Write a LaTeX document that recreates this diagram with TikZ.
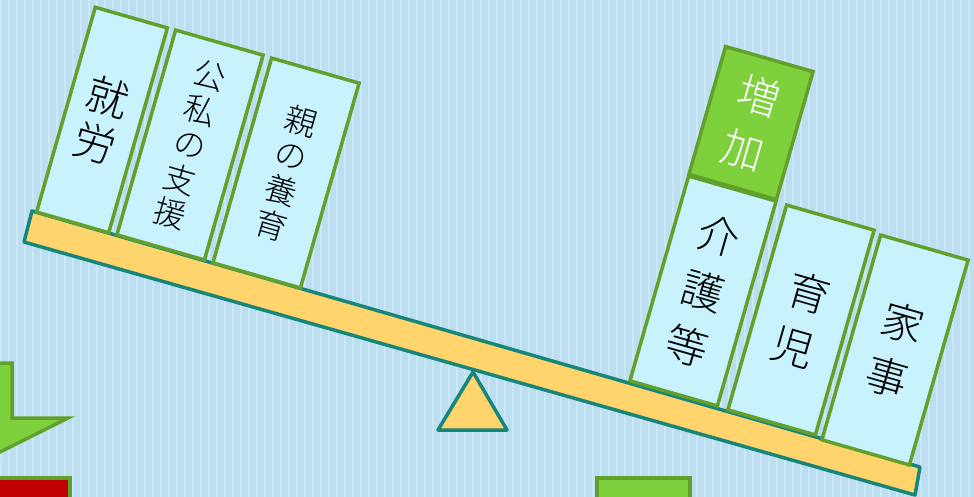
\documentclass[tikz,border=0pt]{standalone}
\usepackage{fontspec}
\newfontfamily\jpfont{Noto Sans CJK JP Light}
\usepackage{tikz}
\usetikzlibrary{positioning}
\definecolor{bgblue}{HTML}{BDDEF0}
\definecolor{bgstripe}{HTML}{CAE8F6}
\definecolor{bookfill}{HTML}{C8F2FD}
\definecolor{bookedge}{HTML}{62A02C}
\definecolor{addfill}{HTML}{7ED03C}
\definecolor{beamfill}{HTML}{FFD46C}
\definecolor{beamedge}{HTML}{16857A}
\definecolor{boxred}{HTML}{C00000}
\tikzset{
  book/.style={draw=bookedge, fill=bookfill, line width=3.5pt, rotate=-16,
    minimum width=91pt, minimum height=213pt, inner sep=0pt, align=center},
  addbox/.style={book, fill=addfill, text=white, minimum height=133pt},
  beam/.style={draw=beamedge, fill=beamfill, line width=3.5pt, line join=round},
  greenpart/.style={draw=bookedge, fill=addfill, line width=3.5pt}
}
\newcommand{\bigjp}{\jpfont\fontsize{42}{57}\selectfont}
\newcommand{\midjp}{\jpfont\fontsize{42}{47}\selectfont}
\newcommand{\smalljp}{\jpfont\fontsize{32}{36}\selectfont}

\begin{document}
\begin{tikzpicture}[x=1pt, y=-1pt]
  \useasboundingbox (0,0) rectangle (974,497);
  \clip (0,0) rectangle (974,497);

  % background
  \fill[bgblue] (0,0) rectangle (974,497);
  \foreach \x in {0,8,...,968}
    \fill[bgstripe] (\x,0) rectangle ++(2,497);

  % parts cut by the lower edge
  \draw[greenpart] (-40,363) -- (12,363) -- (12,418) -- (68,418) -- (-20,462) -- cycle;
  \draw[draw=bookedge, fill=boxred, line width=3.5pt] (-10,478) rectangle (70,520);
  \draw[greenpart] (597,478) rectangle (690,520);

  % seesaw
  \draw[beam] (473,372) -- (507,430) -- (438,430) -- cycle;
  \draw[beam] (32,211) -- (920,467) -- (915,495) -- (24,242) -- cycle;

  % left side
  \node[book, minimum width=75pt, font=\midjp] (work) at (102,120) {就\\労};
  \node[book, font=\smalljp] (support) at (190,145) {公\\私\\の\\支\\援};
  \node[book, font=\smalljp] (parents) at (286,173) {親\\の\\養\\育};

  % right side
  \node[book, font=\bigjp] (care) at (703,291) {介\\護\\等};
  \node[book, font=\bigjp] (child) at (801,320) {育\\児};
  \node[book, font=\bigjp] (house) at (895,350) {家\\事};
  \node[addbox, font=\bigjp] (more) at (751,123) {増\\加};
\end{tikzpicture}
\end{document}
